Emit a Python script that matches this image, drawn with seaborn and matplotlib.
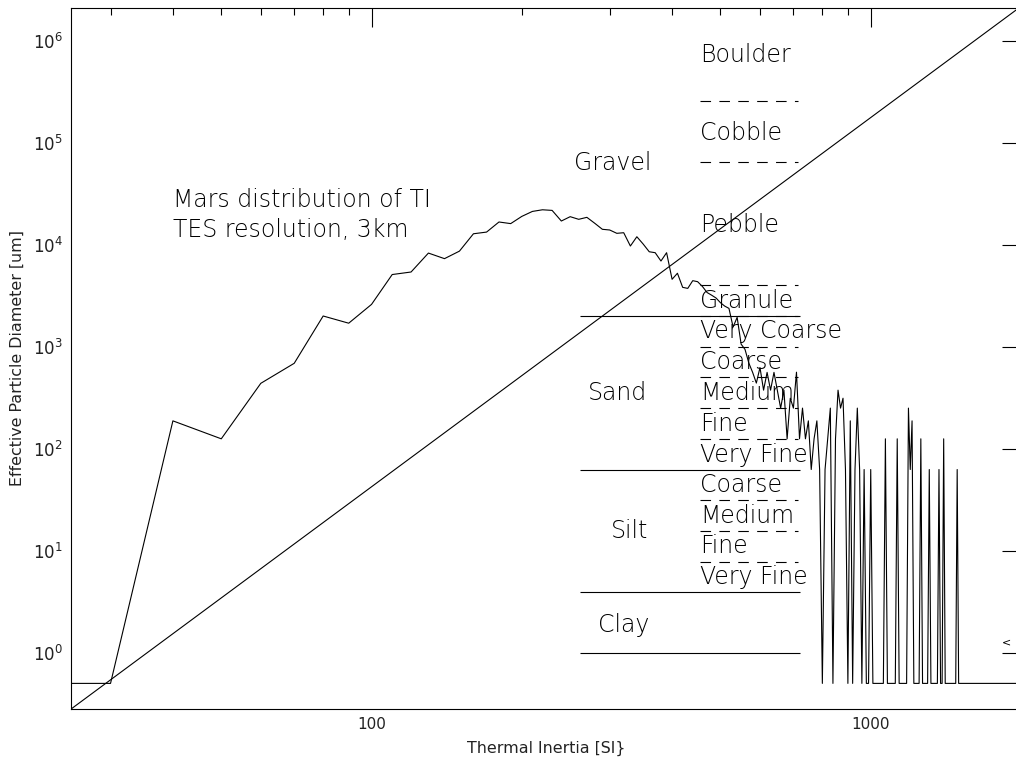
import numpy as np
import matplotlib
matplotlib.use("Agg")
import matplotlib.pyplot as plt
import seaborn as sns
import pandas as pd
from matplotlib.ticker import FixedLocator, NullLocator, LogFormatterMathtext, NullFormatter

sns.set_theme(style="white")
plt.rcParams["font.family"] = ["DejaVu Sans"]

# ---------------- data ----------------
# thermal-inertia histogram bins (SI) and plotted value (empty bins = 0)
ti_bins = [20, 30, 40, 50, 60, 70, 80, 90, 100, 110, 120, 130, 140, 150, 160, 170,
           180, 190, 200, 210, 220, 230, 240, 250, 260, 270, 280, 290, 300, 310, 320,
           330, 340, 350, 360, 370, 380, 390, 400, 410, 420, 430, 440, 450, 460, 470,
           480, 490, 500, 510, 520, 530, 540, 550, 560, 570, 580, 590, 600, 610, 620,
           630, 640, 650, 660, 670, 680, 690, 700, 710, 720, 730, 740, 750, 760, 770,
           780, 790, 800, 810, 820, 830, 840, 850, 860, 870, 880, 890, 900, 910, 920,
           930, 940, 950, 960, 970, 980, 990, 1000, 1010, 1020, 1030, 1040, 1050, 1060,
           1070, 1080, 1090, 1100, 1110, 1120, 1130, 1140, 1150, 1160, 1170, 1180, 1190,
           1200, 1210, 1220, 1230, 1240, 1250, 1260, 1270, 1280, 1290, 1300, 1310, 1320,
           1330, 1340, 1350, 1360, 1370, 1380, 1390, 1400, 1410, 1420, 1430, 1440, 1450,
           1460, 1470, 1480, 1490, 1500, 2000]
ti_values = [0, 0, 187.5, 125, 437.5, 687.5, 2000, 1700, 2600, 5100, 5400, 8280, 7300,
             8650, 12800, 13300, 16700, 16100, 18950, 21200, 22000, 21700, 17070, 18830,
             17740, 18550, 16220, 14160, 13940, 12930, 13110, 9710, 11970, 10160, 8530,
             8350, 6920, 8350, 4580, 5250, 3820, 3730, 4440, 4340, 3900, 3400, 3200, 3000,
             2700, 2500, 2375, 1560, 1940, 1060, 940, 690, 560, 440, 625, 375, 560, 375,
             560, 375, 250, 375, 125, 312.5, 250, 562.5, 125, 250, 125, 187.5, 62.5, 125,
             187.5, 62.5, 0, 62.5, 125, 250, 0, 125, 375, 250, 312.5, 62.5, 0, 187.5, 0,
             62.5, 250, 62.5, 0, 62.5, 0, 0, 62.5, 0, 0, 0, 0, 0, 0,
             125, 0, 0, 0, 0, 0, 125, 0, 0, 0, 0, 0, 250,
             62.5, 187.5, 0, 0, 0, 0, 125, 0, 0, 0, 0, 62.5, 0,
             0, 0, 0, 0, 62.5, 0, 0, 125, 0, 0, 0, 0, 0,
             0, 0, 0, 62.5, 0, 0]
FLOOR = 0.5  # empty bins are drawn on this floor, as in the original

# TI - particle size relation (straight line in log-log)
rel_ti = [25, 2000]
rel_d = [0.28, 2.17e6]

# grain-size class boundaries (um)
solid_bounds = [2000, 62.5, 3.9, 1.0]
dashed_bounds = [256000, 64000, 4000, 2000, 1000, 500, 250, 125, 31.25, 15.6, 7.8]

major_names = ["Gravel", "Sand", "Silt", "Clay"]
major_x = [254, 271, 301, 284]
major_y = [54000, 300, 13.2, 1.6]

sub_names = ["Boulder", "Cobble", "Pebble", "Granule", "Very Coarse", "Coarse", "Medium",
             "Fine", "Very Fine", "Coarse", "Medium", "Fine", "Very Fine"]
sub_y = [614000, 106000, 13400, 2380, 1208, 600, 300, 150, 74.6, 37.9, 18.8, 9.43, 4.72]

note_lines = ["Mars distribution of TI", "TES resolution, 3km"]
note_y = [23600, 11820]

x_major = [100, 1000]
x_minor = [30, 40, 50, 60, 70, 80, 90, 200, 300, 400, 500, 600, 700, 800, 900]
y_major = [1, 10, 100, 1000, 1e4, 1e5, 1e6]

# ---------------- figure ----------------
fig = plt.figure(figsize=(10.16, 7.62), dpi=100)
ax = fig.add_axes([71 / 1016, 53 / 762, 950 / 1016, 701 / 762])
ax.set_xscale("log")
ax.set_yscale("log")
ax.set_facecolor("white")

df = pd.DataFrame({"ti": ti_bins, "val": np.maximum(ti_values, FLOOR)})
sns.lineplot(data=df, x="ti", y="val", ax=ax, color="black", lw=0.8, sort=False,
             estimator=None)
rel = pd.DataFrame({"ti": rel_ti, "d": rel_d})
sns.lineplot(data=rel, x="ti", y="d", ax=ax, color="black", lw=0.8, estimator=None)

ax.hlines(solid_bounds, 262, 720, colors="black", lw=0.8)
ax.hlines(dashed_bounds, 455, 714, colors="black", lw=0.8, linestyles=(0, (9.5, 7.5)))

tkw = dict(fontsize=17, fontweight="light", color="black", va="baseline", ha="left")
for name, x, y in zip(major_names, major_x, major_y):
    ax.text(x, y, name, **tkw)
for name, y in zip(sub_names, sub_y):
    ax.text(455, y, name, **tkw)
for line, y in zip(note_lines, note_y):
    ax.text(40, y, line, **tkw)
ax.text(1830, 1.27, "<", fontsize=8, color="black", va="center", ha="left")

ax.set_xlim(25, 2000)
ax.set_ylim(0.2805, 2.093e6)
ax.xaxis.set_major_locator(FixedLocator(x_major))
ax.xaxis.set_minor_locator(FixedLocator(x_minor))
ax.xaxis.set_minor_formatter(NullFormatter())
ax.set_xticklabels([str(v) for v in x_major])
ax.yaxis.set_major_locator(FixedLocator(y_major))
ax.yaxis.set_minor_locator(NullLocator())
ax.yaxis.set_major_formatter(LogFormatterMathtext())

ax.tick_params(which="both", direction="in", top=True, right=True, color="black",
               width=0.8, labelcolor="#222222")
ax.tick_params(axis="x", labelsize=11)
ax.tick_params(axis="y", labelsize=12)
ax.tick_params(which="major", length=13.7, pad=6)
ax.tick_params(which="minor", length=5)
for s in ax.spines.values():
    s.set_color("black")
    s.set_linewidth(0.8)

ax.set_xlabel("Thermal Inertia [SI}", fontsize=11.4, color="#222222", labelpad=6)
ax.set_ylabel("Effective Particle Diameter [um]", fontsize=11.4, color="#222222",
              labelpad=6)

fig.savefig("out.png", dpi=100, facecolor="white")
